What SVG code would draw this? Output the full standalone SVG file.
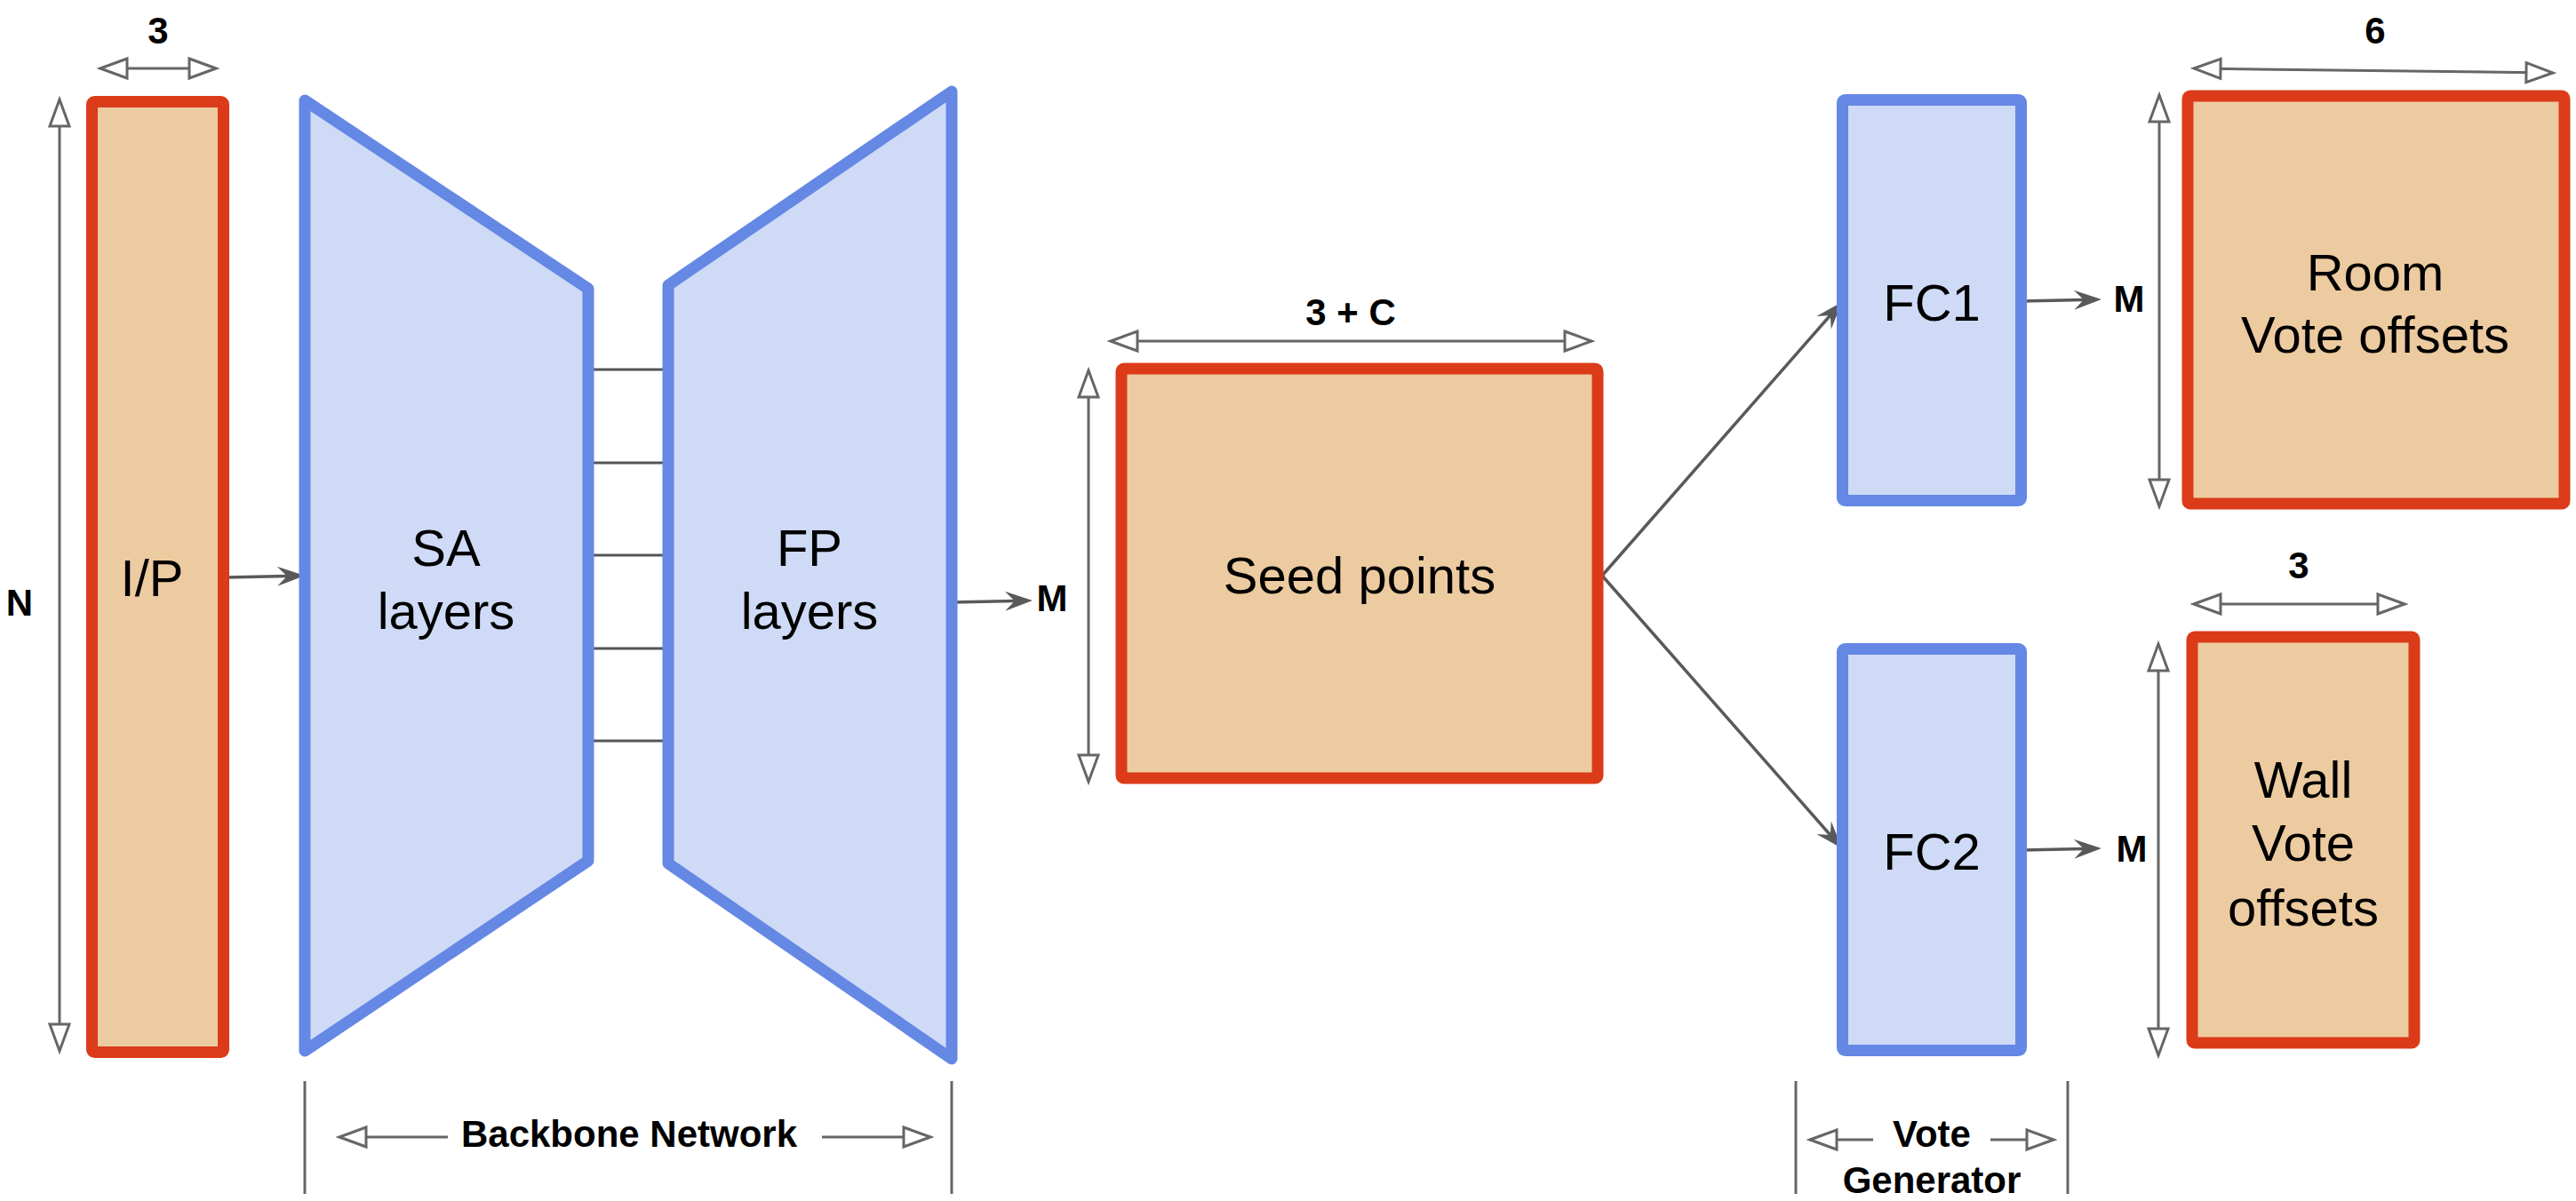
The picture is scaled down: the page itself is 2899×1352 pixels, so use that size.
<svg xmlns="http://www.w3.org/2000/svg" width="2899" height="1352" viewBox="0 0 2899 1352">
<defs>
<style>
.bg{fill:#ffffff}
.tensor{fill:#EDCBA0;stroke:#DB3B19;stroke-width:13;stroke-linejoin:round}
.layer{fill:#CFDAF7;stroke:#6488E4;stroke-width:13;stroke-linejoin:round}
.lbl{font-family:"Liberation Sans",Arial,sans-serif;font-size:58px;fill:#000;text-anchor:middle}
.dim{font-family:"Liberation Sans",Arial,sans-serif;font-size:42px;font-weight:bold;fill:#000;text-anchor:middle}
.conn{stroke:#595959;stroke-width:3.5;fill:none;marker-end:url(#head)}
.skip{stroke:#555;stroke-width:3;fill:none}
.dimline{stroke:#666;stroke-width:3;fill:none;marker-start:url(#open);marker-end:url(#open)}
.half{stroke:#666;stroke-width:3;fill:none;marker-end:url(#open)}
.bar{stroke:#666;stroke-width:3;fill:none}
</style>
<marker id="head" viewBox="0 -12 34 24" refX="12" refY="0" markerWidth="34" markerHeight="24" markerUnits="userSpaceOnUse" orient="auto">
<path d="M32,0 L1,-11 L12,0 L1,11 Z" fill="#595959"/>
</marker>
<marker id="open" viewBox="-3 -15 38 30" refX="31" refY="0" markerWidth="38" markerHeight="30" markerUnits="userSpaceOnUse" orient="auto-start-reverse">
<path d="M1,-11 L31,0 L1,11 Z" fill="#fff" stroke="#666" stroke-width="3"/>
</marker>
</defs>
<rect class="bg" x="0" y="0" width="2899" height="1352"/>

<g id="connectors">
<line class="conn" x1="253" y1="650" x2="323" y2="648.4"/>
<line class="conn" x1="1072" y1="678" x2="1142" y2="676.4"/>
<line class="conn" x1="1803" y1="648" x2="2059.8" y2="355"/>
<line class="conn" x1="1803" y1="648" x2="2059.8" y2="940"/>
<line class="conn" x1="2275" y1="339" x2="2345" y2="337.4"/>
<line class="conn" x1="2275" y1="957" x2="2345" y2="955.4"/>
<line class="skip" x1="662" y1="416" x2="752" y2="416"/>
<line class="skip" x1="662" y1="521" x2="752" y2="521"/>
<line class="skip" x1="662" y1="625" x2="752" y2="625"/>
<line class="skip" x1="662" y1="730" x2="752" y2="730"/>
<line class="skip" x1="662" y1="834" x2="752" y2="834"/>
</g>

<g id="dimensions">
<line class="dimline" x1="113" y1="77" x2="243" y2="77"/>
<text class="dim" x="178" y="49">3</text>
<line class="dimline" x1="67" y1="112" x2="67" y2="1183"/>
<text class="dim" x="22" y="693">N</text>
<text class="dim" x="1184" y="688">M</text>
<line class="dimline" x1="1250" y1="384" x2="1791" y2="384"/>
<text class="dim" x="1520" y="366">3 + C</text>
<line class="dimline" x1="1225" y1="417" x2="1225" y2="880"/>
<text class="dim" x="2396" y="351">M</text>
<text class="dim" x="2399" y="970">M</text>
<line class="dimline" x1="2469" y1="77" x2="2873" y2="82"/>
<text class="dim" x="2673" y="49">6</text>
<line class="dimline" x1="2430" y1="107" x2="2430" y2="570"/>
<line class="dimline" x1="2469" y1="680" x2="2706" y2="680"/>
<text class="dim" x="2587" y="651">3</text>
<line class="dimline" x1="2429" y1="725" x2="2429" y2="1188"/>
</g>

<g id="backbone-label">
<line class="bar" x1="343" y1="1217" x2="343" y2="1344"/>
<line class="bar" x1="1071" y1="1217" x2="1071" y2="1344"/>
<line class="half" x1="504" y1="1280" x2="382" y2="1280"/>
<line class="half" x1="925" y1="1280" x2="1047" y2="1280"/>
<text class="dim" x="708" y="1291">Backbone Network</text>
</g>

<g id="vote-generator-label">
<line class="bar" x1="2021" y1="1217" x2="2021" y2="1344"/>
<line class="bar" x1="2327" y1="1217" x2="2327" y2="1344"/>
<line class="half" x1="2108" y1="1283" x2="2037" y2="1283"/>
<line class="half" x1="2240" y1="1283" x2="2311" y2="1283"/>
<text class="dim" x="2174" y="1291">Vote</text>
<text class="dim" x="2174" y="1343">Generator</text>
</g>

<g id="ip">
<rect class="tensor" x="103.5" y="114.5" width="148" height="1070" rx="3"/>
<text class="lbl" x="171" y="671">I/P</text>
</g>

<g id="sa">
<polygon class="layer" points="343,113 662,325 662,969 343,1183"/>
<text class="lbl" x="502" y="637">SA</text>
<text class="lbl" x="502" y="708">layers</text>
</g>

<g id="fp">
<polygon class="layer" points="752,321 1071,103 1071,1192 752,972"/>
<text class="lbl" x="911" y="637">FP</text>
<text class="lbl" x="911" y="708">layers</text>
</g>

<g id="seed">
<rect class="tensor" x="1262" y="415" width="536" height="461" rx="3"/>
<text class="lbl" x="1530" y="668">Seed points</text>
</g>

<g id="fc1">
<rect class="layer" x="2073.5" y="112.5" width="201" height="451" rx="3"/>
<text class="lbl" x="2174" y="361">FC1</text>
</g>

<g id="fc2">
<rect class="layer" x="2073.5" y="730.5" width="201" height="452" rx="3"/>
<text class="lbl" x="2174" y="979">FC2</text>
</g>

<g id="room">
<rect class="tensor" x="2462" y="108" width="424" height="459" rx="3"/>
<text class="lbl" x="2673" y="327">Room</text>
<text class="lbl" x="2673" y="397">Vote offsets</text>
</g>

<g id="wall">
<rect class="tensor" x="2467" y="717" width="250" height="457" rx="3"/>
<text class="lbl" x="2592" y="898">Wall</text>
<text class="lbl" x="2592" y="969">Vote</text>
<text class="lbl" x="2592" y="1042">offsets</text>
</g>
</svg>
